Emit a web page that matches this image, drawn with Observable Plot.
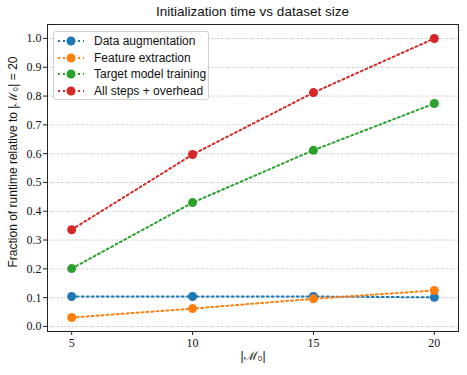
<!DOCTYPE html>
<html>
<head>
<meta charset="utf-8">
<script src="https://cdn.jsdelivr.net/npm/d3@7"></script>
<script src="https://cdn.jsdelivr.net/npm/@observablehq/plot@0.6"></script>
<style>
  body { margin: 0; background: white; }
  #wrap { position: relative; width: 467px; height: 375px; font-family: "Liberation Sans", Arial, sans-serif; }
  #title { position: absolute; left: 47px; width: 411px; top: 4px; text-align: center; font-size: 13.5px; color: #111; }
  #legend { position: absolute; left: 53px; top: 31px; width: 156px; height: 69px; border: 1px solid #d0d0d0; border-radius: 3px; background: rgba(255,255,255,0.85); box-sizing: border-box; }
  .row { position: absolute; left: 0; height: 16px; display: flex; align-items: center; font-size: 12px; color: #111; }
  .row svg { margin-left: 3px; margin-right: 9px; }
  #plot { position: absolute; left: 0; top: 0; }
  #plot g[aria-label="y-axis tick label"], #plot g[aria-label="x-axis tick label"] { font-family: "Liberation Serif", "DejaVu Serif", serif; }
</style>
</head>
<body>
<div id="wrap">
  <div id="plot"></div>
  <div id="title"></div>
  <div id="legend"></div>
</div>
<script>
const titleText = "Initialization time vs dataset size";
const yLabel = "Fraction of runtime relative to |ℳ₀| = 20";
const xLabel = "|ℳ₀|";
const sizes = [5, 10, 15, 20];
const seriesNames = ["Data augmentation", "Feature extraction", "Target model training", "All steps + overhead"];
const colors = ["#1f77b4", "#ff7f0e", "#2ca02c", "#d62728"];
const dataAugmentation = [0.104, 0.104, 0.104, 0.101];
const featureExtraction = [0.031, 0.062, 0.096, 0.125];
const targetTraining = [0.201, 0.430, 0.612, 0.774];
const allSteps = [0.336, 0.597, 0.812, 1.0];
const yTicks = [0.0, 0.1, 0.2, 0.3, 0.4, 0.5, 0.6, 0.7, 0.8, 0.9, 1.0];
const xTicks = [5, 10, 15, 20];

const seriesValues = [dataAugmentation, featureExtraction, targetTraining, allSteps];
const rows = [];
seriesNames.forEach((s, i) => sizes.forEach((x, j) => rows.push({series: s, x, y: seriesValues[i][j]})));

const chart = Plot.plot({
  width: 467, height: 375,
  marginTop: 24, marginBottom: 44, marginLeft: 47, marginRight: 9,
  style: {fontFamily: "Liberation Sans, Arial, sans-serif", background: "white", color: "#111"},
  x: {domain: [4, 21]},
  y: {domain: [-0.0175, 1.0485]},
  color: {domain: seriesNames, range: colors},
  marks: [
    Plot.gridY(yTicks, {stroke: "#b0b0b0", strokeOpacity: 1, strokeDasharray: "1 1.5", strokeWidth: 0.9}),
    Plot.axisY(yTicks, {tickFormat: d => d.toFixed(1), fontSize: 12, tickSize: 4, tickPadding: 2, label: null, stroke: "#222"}),
    Plot.axisX(xTicks, {tickFormat: d => String(d), fontSize: 12, tickSize: 4, tickPadding: 3, label: null, stroke: "#222"}),
    Plot.frame({stroke: "#222", strokeWidth: 1}),
    Plot.line(rows, {x: "x", y: "y", z: "series", stroke: "series", strokeDasharray: "2 3", strokeWidth: 2}),
    Plot.dot(rows, {x: "x", y: "y", fill: "series", r: 4.5}),
    Plot.text([yLabel], {frameAnchor: "left", textAnchor: "middle", rotate: -90, dx: -34, dy: -16, fontSize: 12, fill: "#111"}),
    Plot.text([xLabel], {frameAnchor: "bottom", dy: 28, fontSize: 12, fill: "#111"})
  ]
});
document.getElementById("plot").appendChild(chart);
document.getElementById("title").textContent = titleText;

const legend = document.getElementById("legend");
seriesNames.forEach((s, i) => {
  const row = document.createElement("div");
  row.className = "row";
  row.style.top = (1 + i * 16.7) + "px";
  row.innerHTML = `<svg width="28" height="12"><line x1="1" y1="6" x2="27" y2="6" stroke="${colors[i]}" stroke-width="2" stroke-dasharray="2 3"/><circle cx="14" cy="6" r="4.5" fill="${colors[i]}"/></svg><span>${s}</span>`;
  legend.appendChild(row);
});
</script>
</body>
</html>
